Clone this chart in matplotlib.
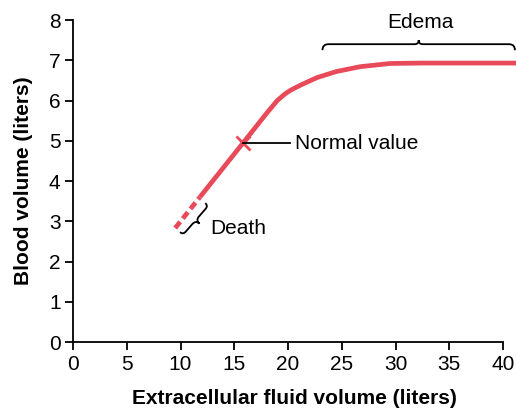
import numpy as np
import matplotlib

matplotlib.use("Agg")
import matplotlib.pyplot as plt
from matplotlib.path import Path
from matplotlib.patches import PathPatch

plt.rcParams["font.family"] = ["Liberation Sans", "DejaVu Sans"]

RED = "#e84a5a"

# curve (liters)
solid_x = [11.8, 15.8, 18.0, 19.0, 19.7, 20.2, 20.7, 21.3, 22.7, 24.5, 26.7, 29.5, 32.3, 41.2]
solid_y = [3.60, 4.94, 5.68, 6.00, 6.16, 6.25, 6.32, 6.40, 6.57, 6.72, 6.84, 6.92, 6.93, 6.93]
death_x = [9.5, 11.8]
death_y = [2.83, 3.60]
normal_point = (15.8, 4.94)

x_ticks = [0, 5, 10, 15, 20, 25, 30, 35, 40]
y_ticks = [0, 1, 2, 3, 4, 5, 6, 7, 8]


def curly_brace(ax, p1, p2, hook, tip, **kw):
    """Brace between two data points, bulging to the left of p1->p2 (in pixels)."""
    trans = ax.transData
    a = np.array(trans.transform(p1))
    b = np.array(trans.transform(p2))
    u = (b - a) / np.linalg.norm(b - a)
    v = np.array([-u[1], u[0]])
    L = np.linalg.norm(b - a)

    def pt(s, t):
        return a + u * s + v * t

    h = hook
    verts = [
        pt(0, 0), pt(0, h), pt(h, h),
        pt(L / 2 - tip, h), pt(L / 2, h), pt(L / 2, h + tip),
        pt(L / 2, h), pt(L / 2 + tip, h),
        pt(L - h, h), pt(L, h), pt(L, 0),
    ]
    codes = [Path.MOVETO, Path.CURVE3, Path.CURVE3,
             Path.LINETO, Path.CURVE3, Path.CURVE3,
             Path.CURVE3, Path.CURVE3,
             Path.LINETO, Path.CURVE3, Path.CURVE3]
    patch = PathPatch(Path(verts, codes), transform=None, fill=False, clip_on=False, **kw)
    ax.add_artist(patch)


fig = plt.figure(figsize=(5.16, 4.09), dpi=100)
ax = fig.add_axes([0.1415, 0.1638, 0.8585, 0.7873])
ax.set_xlim(0, 41.2)
ax.set_ylim(0, 8)

ax.plot(solid_x, solid_y, color=RED, linewidth=3.4, solid_capstyle="butt",
        solid_joinstyle="round", clip_on=False)
ax.plot(death_x, death_y, color=RED, linewidth=3.4, dashes=(1.7, 0.9), clip_on=False)
ax.plot(*normal_point, marker="x", markersize=10, markeredgewidth=2.0, color=RED)

# Normal value callout
ax.plot([normal_point[0], 20.2], [normal_point[1]] * 2, color="black", linewidth=1.3)
ax.text(20.65, normal_point[1], "Normal value", fontsize=15, va="center", ha="left")

# Edema brace
curly_brace(ax, (23.2, 7.25), (41.1, 7.25), hook=6, tip=4, color="black", linewidth=1.3)
ax.text(32.3, 7.93, "Edema", fontsize=15, ha="center", va="center", clip_on=False)

# Death brace
curly_brace(ax, (12.3, 3.45), (9.95, 2.73), hook=4, tip=5, color="black", linewidth=1.3)
ax.text(12.75, 2.83, "Death", fontsize=15, ha="left", va="center")

ax.set_xticks(x_ticks)
ax.set_yticks(y_ticks)
ax.tick_params(direction="out", length=6, width=1.3, labelsize=15, pad=3)
for side in ["top", "right"]:
    ax.spines[side].set_visible(False)
for side in ["left", "bottom"]:
    ax.spines[side].set_linewidth(1.3)
ax.spines["bottom"].set_bounds(0, 40)
ax.spines["left"].set_bounds(0, 8)

ax.set_xlabel("Extracellular fluid volume (liters)", fontsize=15, fontweight="bold", labelpad=11)
ax.set_ylabel("Blood volume (liters)", fontsize=15, fontweight="bold", labelpad=11)

fig.savefig("out.png", dpi=100)
